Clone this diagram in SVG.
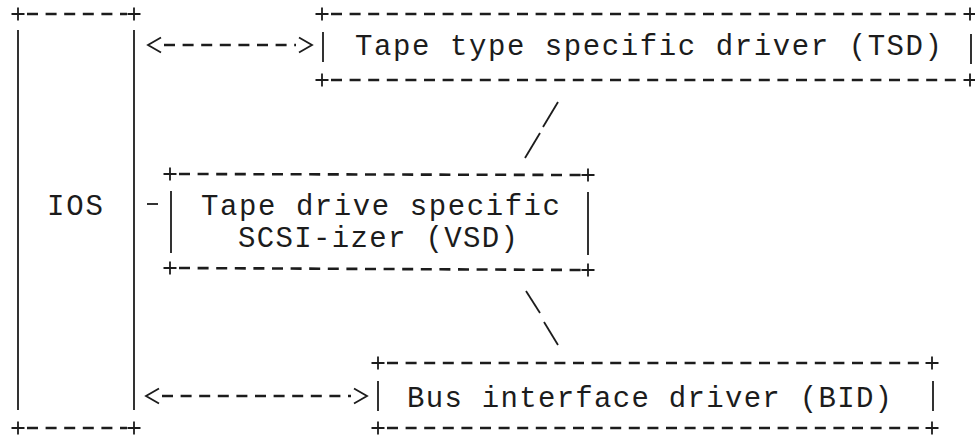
<svg xmlns="http://www.w3.org/2000/svg" width="975" height="438" viewBox="0 0 975 438">
<style>
.t{font-family:"Liberation Mono","DejaVu Sans Mono",monospace;font-size:29px;fill:#1c1c1c}
.d{stroke:#1c1c1c;stroke-width:2.6;stroke-dasharray:11 7.6;fill:none}
.s{stroke:#1c1c1c;stroke-width:1.8;fill:none}
</style>
<defs>
<path id="p" d="M-6.5,0H6.5M0,-6.5V6.5" class="s"/>
<marker id="ah" markerUnits="userSpaceOnUse" markerWidth="20" markerHeight="16" refX="0" refY="0" orient="auto-start-reverse" overflow="visible">
<path d="M3,-7.5L16,0L3,7.5" stroke="#1c1c1c" stroke-width="1.8" fill="none"/>
</marker>
</defs>
<rect width="975" height="438" fill="#fff"/>
<g id="ios">
<use href="#p" x="18" y="14"/><use href="#p" x="134" y="14"/>
<line class="d" x1="27" y1="14" x2="127" y2="14"/>
<line class="s" x1="18" y1="30" x2="18" y2="410"/>
<line class="s" x1="134" y1="30" x2="134" y2="410"/>
<use href="#p" x="18" y="428"/><use href="#p" x="134" y="428"/>
<line class="d" x1="27" y1="428" x2="127" y2="428"/>
<text class="t" x="47" y="215" textLength="56" lengthAdjust="spacing">IOS</text>
</g>
<g id="tsd">
<use href="#p" x="322" y="14"/><use href="#p" x="970" y="14"/>
<line class="d" x1="331" y1="14" x2="963" y2="14"/>
<use href="#p" x="322" y="80"/><use href="#p" x="970" y="80"/>
<line class="d" x1="331" y1="80" x2="963" y2="80"/>
<line class="s" x1="323" y1="32" x2="323" y2="62"/>
<line class="s" x1="971" y1="34" x2="971" y2="64"/>
<text class="t" x="355" y="55" textLength="587" lengthAdjust="spacing">Tape type specific driver (TSD)</text>
</g>
<g id="vsd">
<use href="#p" x="170" y="174"/><use href="#p" x="588" y="175"/>
<line class="d" x1="179" y1="174" x2="581" y2="175"/>
<use href="#p" x="170" y="268"/><use href="#p" x="588" y="270"/>
<line class="d" x1="179" y1="268" x2="581" y2="270"/>
<line class="s" x1="171" y1="191" x2="171" y2="253"/>
<line class="s" x1="588" y1="192" x2="588" y2="255"/>
<text class="t" x="201" y="215" textLength="359" lengthAdjust="spacing">Tape drive specific</text>
<text class="t" x="238" y="247" textLength="280" lengthAdjust="spacing">SCSI-izer (VSD)</text>
</g>
<g id="bid">
<use href="#p" x="378" y="363"/><use href="#p" x="932" y="363"/>
<line class="d" x1="387" y1="363" x2="925" y2="363"/>
<use href="#p" x="378" y="428"/><use href="#p" x="932" y="428"/>
<line class="d" x1="387" y1="428" x2="925" y2="428"/>
<line class="s" x1="378" y1="381" x2="378" y2="411"/>
<line class="s" x1="933" y1="381" x2="933" y2="411"/>
<text class="t" x="407" y="407" textLength="485" lengthAdjust="spacing">Bus interface driver (BID)</text>
</g>
<g id="connectors">
<line class="d" x1="164" y1="45" x2="296" y2="45" marker-start="url(#ah)" marker-end="url(#ah)"/>
<line class="d" x1="162" y1="396" x2="351" y2="396" marker-start="url(#ah)" marker-end="url(#ah)"/>
<line class="s" stroke-width="2.6" x1="147" y1="204" x2="158" y2="204"/>
<line class="s" x1="558" y1="102" x2="543" y2="127"/>
<line class="s" x1="540" y1="133" x2="525" y2="158"/>
<line class="s" x1="526" y1="291" x2="540" y2="313"/>
<line class="s" x1="544" y1="322" x2="558" y2="345"/>
</g>
</svg>
